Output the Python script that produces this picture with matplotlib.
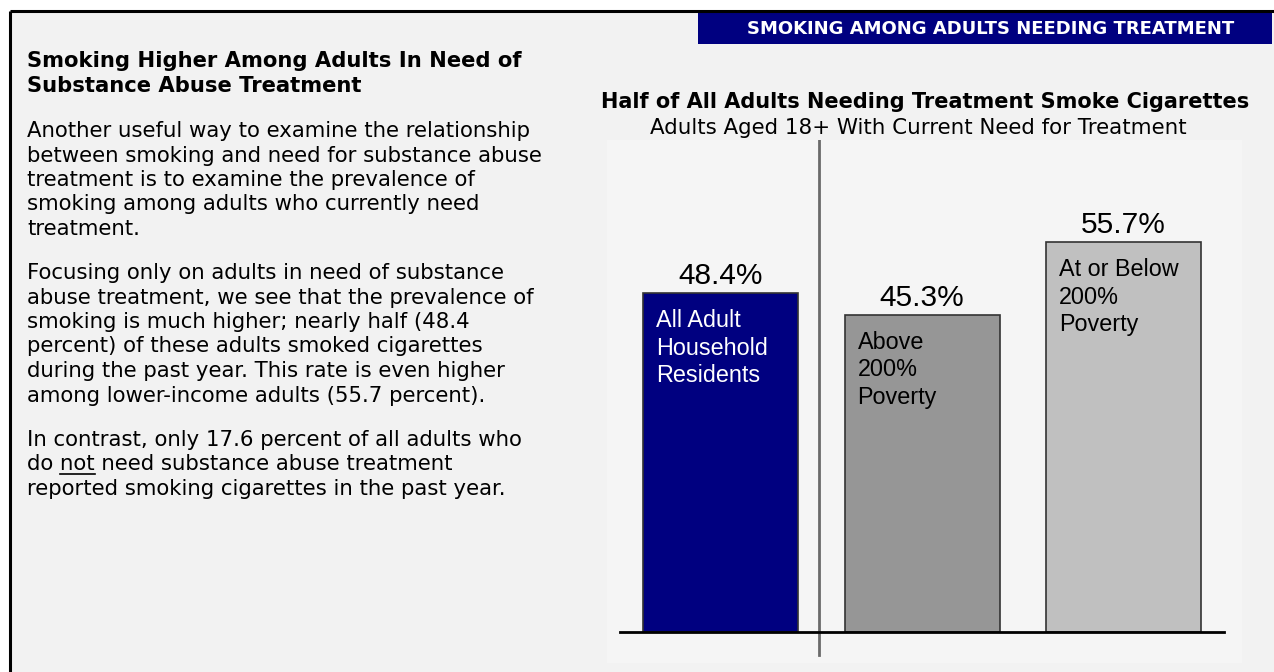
import matplotlib
matplotlib.use("Agg")
import matplotlib.pyplot as plt
from matplotlib.patches import Rectangle

# chart data
categories = ["All Adult\nHousehold\nResidents", "Above\n200%\nPoverty", "At or Below\n200%\nPoverty"]
values = [48.4, 45.3, 55.7]
bar_colors = ["#000080", "#969696", "#c0c0c0"]
label_colors = ["white", "black", "black"]

header = "SMOKING AMONG ADULTS NEEDING TREATMENT"
title = "Half of All Adults Needing Treatment Smoke Cigarettes"
subtitle = "Adults Aged 18+ With Current Need for Treatment"

heading = ["Smoking Higher Among Adults In Need of", "Substance Abuse Treatment"]
para1 = ["Another useful way to examine the relationship",
         "between smoking and need for substance abuse",
         "treatment is to examine the prevalence of",
         "smoking among adults who currently need",
         "treatment."]
para2 = ["Focusing only on adults in need of substance",
         "abuse treatment, we see that the prevalence of",
         "smoking is much higher; nearly half (48.4",
         "percent) of these adults smoked cigarettes",
         "during the past year. This rate is even higher",
         "among lower-income adults (55.7 percent)."]
para3 = ["In contrast, only 17.6 percent of all adults who",
         "do not need substance abuse treatment",
         "reported smoking cigarettes in the past year."]

W, H = 1274, 672
fig = plt.figure(figsize=(W / 100, H / 100), dpi=100, facecolor="white")

# page layer in pixel coordinates
page = fig.add_axes([0, 0, 1, 1], zorder=0)
page.set_xlim(0, W)
page.set_ylim(H, 0)
page.axis("off")
page.add_patch(Rectangle((10, 11), W - 10, H - 11, facecolor="#f2f2f2", edgecolor="none"))
page.plot([10, W], [11, 11], color="black", lw=2.2, solid_capstyle="butt")
page.plot([10, 10], [11, H], color="black", lw=2.2, solid_capstyle="butt")
page.add_patch(Rectangle((698, 12), 574, 32, facecolor="#000080", edgecolor="none"))
page.text(991, 29, header, color="white", fontsize=13.0, fontweight="bold",
          ha="center", va="center")

page.text(925, 102, title, fontsize=15.0, fontweight="bold", ha="center", va="center")
page.text(918, 128, subtitle, fontsize=15.4, ha="center", va="center")

body = dict(fontsize=15.3, color="black", family="DejaVu Sans")
x0 = 27
step = 24.5
for i, line in enumerate(heading):
    page.text(x0, 67 + i * step, line, fontweight="bold", va="baseline", fontsize=15.2)
for i, line in enumerate(para1):
    page.text(x0, 137 + i * step, line, va="baseline", **body)
for i, line in enumerate(para2):
    page.text(x0, 279 + i * step, line, va="baseline", **body)
for i, line in enumerate(para3):
    page.text(x0, 446 + i * step, line, va="baseline", **body)

# underline "not" in the last paragraph
renderer = fig.canvas.get_renderer()
def text_width(s):
    t = page.text(0, 0, s, **body)
    w = t.get_window_extent(renderer).width
    t.remove()
    return w
ul_y = 446 + step + 3
ul_x1 = x0 + text_width("do not")
ul_x0 = ul_x1 - text_width("not")
page.plot([ul_x0, ul_x1], [ul_y, ul_y], color="black", lw=1.2)

# bar chart panel
ax = fig.add_axes([607 / W, (H - 663) / H, (1242 - 607) / W, (663 - 140) / H], zorder=1)
ax.set_facecolor("#f5f5f5")
for s in ax.spines.values():
    s.set_visible(False)
ax.set_xticks([])
ax.set_yticks([])

px_per_unit = 7.0
ax.set_ylim(-31 / px_per_unit, (523 - 31) / px_per_unit)
ax.set_xlim((607 - 720.5) / 201.5, (1242 - 720.5) / 201.5)

xs = list(range(len(values)))
width = 155 / 201.5
ax.bar(xs, values, width=width, color=bar_colors, edgecolor="#333333", linewidth=1.2, zorder=2)
ax.plot([-0.5, 2.5], [0, 0], color="black", lw=2, zorder=3)
ax.plot([0.489, 0.489], [-23 / px_per_unit, 100], color="#6a6a6a", lw=2, zorder=1)

narrow = "Liberation Sans"
for x, v, cat, lc in zip(xs, values, categories, label_colors):
    ax.annotate(f"{v:.1f}%", xy=(x, v), xytext=(0, 9), textcoords="offset pixels",
                ha="center", va="baseline", fontsize=21.5, family=narrow, zorder=4)
    ax.annotate(cat, xy=(x - width / 2, v), xytext=(13, -16), textcoords="offset pixels",
                ha="left", va="top", fontsize=16.8, family=narrow, color=lc,
                linespacing=1.25, zorder=4)

fig.savefig("out.png", dpi=100, facecolor=fig.get_facecolor())
